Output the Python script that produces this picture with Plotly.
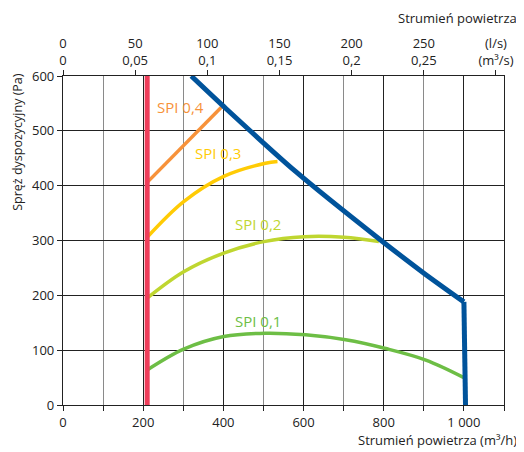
import plotly.graph_objects as go

# Data
red_x = [210, 210]
red_y = [0, 600]
blue_curve_x = [320, 400, 580, 792, 901, 1000]
blue_curve_y = [600, 545, 426, 301, 240, 188]
blue_drop_x = [1000, 1004]
blue_drop_y = [188, 0]
spi04_x = [210, 395]
spi04_y = [406, 543]
spi03_x = [210, 301, 401, 505, 535]
spi03_y = [306, 371, 417, 441, 444]
spi02_x = [210, 301, 401, 501, 601, 701, 788]
spi02_y = [195, 243, 277, 298, 307, 306, 298]
spi01_x = [210, 301, 401, 505, 605, 705, 805, 905, 1000]
spi01_y = [64, 102, 125, 131, 128, 119, 103, 82, 50]

x_major = [0, 200, 400, 600, 800, 1000]
x_major_text = ["0", "200", "400", "600", "800", "1 000"]
ls_ticks = [0, 50, 100, 150, 200, 250, 300]
ls_text = ["0<br>0", "50<br>0,05", "100<br>0,1", "150<br>0,15", "200<br>0,2", "250<br>0,25", "(l/s)<br>(m³/s)"]
y_ticks = [0, 100, 200, 300, 400, 500, 600]

labels = [
    ("SPI 0,4", 292, 543, "#F7923A"),
    ("SPI 0,3", 386, 459, "#FFCB05"),
    ("SPI 0,2", 486, 330, "#BFD630"),
    ("SPI 0,1", 487, 153, "#6DBE45"),
]

FONT = "Open Sans"
BLUE = "#00539B"
fig = go.Figure()

fig.add_trace(go.Scatter(x=spi01_x, y=spi01_y, mode="lines", line=dict(color="#6DBE45", width=3.5, shape="spline")))
fig.add_trace(go.Scatter(x=spi02_x, y=spi02_y, mode="lines", line=dict(color="#BFD630", width=3.5, shape="spline")))
fig.add_trace(go.Scatter(x=spi03_x, y=spi03_y, mode="lines", line=dict(color="#FFCB05", width=3.5, shape="spline")))
fig.add_trace(go.Scatter(x=spi04_x, y=spi04_y, mode="lines", line=dict(color="#F7923A", width=3.5)))
fig.add_trace(go.Scatter(x=red_x, y=red_y, mode="lines", line=dict(color="#EE3D5A", width=5)))
fig.add_trace(go.Scatter(x=blue_curve_x, y=blue_curve_y, mode="lines",
                         line=dict(color=BLUE, width=5, shape="spline", smoothing=0.8)))
fig.add_trace(go.Scatter(x=blue_drop_x, y=blue_drop_y, mode="lines", line=dict(color=BLUE, width=5)))
# invisible trace to activate top axis
fig.add_trace(go.Scatter(x=[0, 1100 / 3.6], y=[0, 0], xaxis="x2", mode="lines",
                         line=dict(width=0), hoverinfo="skip"))

for t, x, y, c in labels:
    fig.add_annotation(x=x, y=y, text=t, showarrow=False, font=dict(family=FONT, size=15, color=c))

fig.add_annotation(xref="paper", yref="paper", x=1.034, y=1.0, yshift=58, xanchor="right", yanchor="middle",
                   text="Strumień powietrza", showarrow=False, font=dict(family=FONT, size=13, color="#222"))
fig.add_annotation(xref="paper", yref="paper", x=1.034, y=0, yshift=-35, xanchor="right", yanchor="middle",
                   text="Strumień powietrza (m³/h)", showarrow=False, font=dict(family=FONT, size=13, color="#222"))
fig.add_annotation(xref="paper", yref="paper", x=-0.102, y=0.8, xanchor="center", yanchor="middle",
                   text="Spręż dyspozycyjny (Pa)", textangle=-90, showarrow=False,
                   font=dict(family=FONT, size=12.5, color="#222"))

fig.update_layout(
    width=516, height=444,
    margin=dict(l=55, r=20, t=68, b=47, autoexpand=False),
    paper_bgcolor="white", plot_bgcolor="white",
    showlegend=False,
    font=dict(family=FONT, size=13, color="#222"),
    xaxis=dict(range=[0, 1100], tickvals=x_major, ticktext=x_major_text, automargin=False,
               showgrid=True, gridcolor="#222", gridwidth=1,
               ticks="outside", ticklen=5, tickcolor="#222",
               showline=True, linecolor="#222", linewidth=1.2, mirror=True,
               zeroline=False,
               minor=dict(dtick=100, tick0=0, showgrid=True, gridcolor="#8a8a8a", gridwidth=1.3,
                          ticks="outside", ticklen=5, tickcolor="#222"),
               fixedrange=True),
    xaxis2=dict(range=[0, 1100 / 3.6], overlaying="x", side="top", automargin=False,
                tickvals=ls_ticks, ticktext=ls_text, ticks="outside", ticklen=5, tickcolor="#222",
                showgrid=False, zeroline=False, showline=False, fixedrange=True),
    yaxis=dict(range=[0, 600], tickvals=y_ticks, showgrid=True, gridcolor="#222", gridwidth=1,
               ticks="outside", ticklen=5, tickcolor="#222", automargin=False,
               showline=True, linecolor="#222", linewidth=1.2, mirror=True, zeroline=False,
               fixedrange=True),
)

fig.write_html("out.html")
